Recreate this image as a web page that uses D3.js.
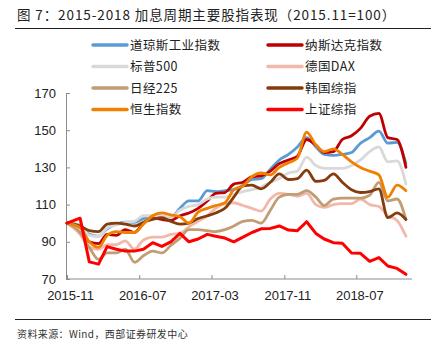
<!DOCTYPE html>
<html><head><meta charset="utf-8">
<script src="https://cdn.jsdelivr.net/npm/d3@7"></script>
<style>
body{margin:0;background:#fff;}
svg{display:block;}
</style></head>
<body>
<svg id="chart" width="440" height="354"></svg>
<script>
const dates = ["2015-11-01","2015-12-15","2016-01-15","2016-02-15","2016-03-15","2016-04-15","2016-05-15","2016-06-15","2016-07-15","2016-08-15","2016-09-15","2016-10-15","2016-11-15","2016-12-15","2017-01-15","2017-02-15","2017-03-15","2017-04-15","2017-05-15","2017-06-15","2017-07-15","2017-08-15","2017-09-15","2017-10-15","2017-11-15","2017-12-15","2018-01-15","2018-02-15","2018-03-15","2018-04-15","2018-05-15","2018-06-15","2018-07-15","2018-08-15","2018-09-15","2018-10-15","2018-11-15","2018-12-15"];
const tickLabels = ["2015-11","2016-07","2017-03","2017-11","2018-07"];
const yTicks = [70,90,110,130,150,170];

const dow    = [100,99,94,93,97,99.5,100.5,100.5,102.5,103.5,103,103,108,112,112,117.5,117,117.5,118,120.5,123.5,124,129,134,137,141,146,141,137,136.5,137,138,143,146,149.5,143,143.5,132];
const nasdaq = [100,98,90,89,94,93.5,96.5,95,100,103,102,101.5,104,105.5,108,112,116,116.5,121,122,125,125.5,128,132,134,136,145,142,138,138.5,145,147,151,157.5,159,146,145,130];
const sp500  = [100,99,93.5,93,97.5,99,100.5,101,104,104,104,103,107,109,110,113,114,114,115.5,117,118,119.5,122,124,127,128,135.5,131,129.5,129.5,129.5,131,134,138.5,141,133,133.5,121];
const dax    = [100,94,87,86,88.5,88.5,90.5,86,91,92.5,92.5,94,94.5,98,101,104,108,110.5,111,109.5,108,106.5,113,116,115.5,114.5,116,110,108.5,110,110.5,110.5,113,110,109,104,101.5,93];
const nikkei = [100,95,87,80.5,84,84,86,79,82.5,85,84,88,92,96.5,96.5,96,95.5,96.5,98.5,101,101.5,100,107,114,115.5,115.5,117.5,114,109.5,113,113.5,113.5,113.5,115,122,112,113,102];
const kospi  = [100,98.5,96,95.5,99.5,100,99.5,98.5,100.5,102,103,101,99.5,100,102.5,104,105.5,108,114,120,120.5,118.5,122,126.5,123.5,124,128.5,122.5,123,126.5,122,118,116.5,117,118.5,103,105.5,102];
const hsi    = [100,97.5,90,87,93.5,95.5,95,95,99.5,104,105.5,104.5,103.5,100,106,108,109.5,111,118,120,125,127,126,130,132.5,135,149,142,138.5,140,137,133,130,128,126,114,120.5,117.5];
const sse    = [100,102.7,79.2,78,87.4,86,85,85,86,89.5,87.5,90,94.5,90,91.5,94,93,92,90,92.5,95,97,97.2,98.5,96.3,96,100.8,94.5,91.5,89.5,89.2,84,83.8,79.5,81.5,77,75.7,72.5];

const seriesNames  = ["道琼斯工业指数","纳斯达克指数","标普500","德国DAX","日经225","韩国综指","恒生指数","上证综指"];
const seriesColors = ["#5B9BD5","#C00000","#D9D9D9","#F2B8AA","#C29D74","#843C0C","#F08000","#FF0000"];
const seriesData   = [dow,nasdaq,sp500,dax,nikkei,kospi,hsi,sse];

const svg = d3.select("#chart");
const parse = d3.timeParse("%Y-%m-%d");
const parseM = d3.timeParse("%Y-%m");
const fmt = d3.timeFormat("%Y-%m");

const x = d3.scaleTime().domain([parseM("2015-11"), parseM("2019-01")]).range([67, 411]);
const y = d3.scaleLinear().domain([70,170]).range([279, 93]);

// title
svg.append("text").attr("x",17).attr("y",20)
  .attr("font-family","'Noto Sans CJK SC','Liberation Sans',sans-serif")
  .attr("font-size",13.5).attr("letter-spacing",0.9).attr("fill","#222")
  .text("图 7：2015-2018 加息周期主要股指表现（2015.11=100）");
svg.append("line").attr("x1",15).attr("x2",431).attr("y1",28.5).attr("y2",28.5).attr("stroke","#222").attr("stroke-width",1);
svg.append("line").attr("x1",15).attr("x2",431).attr("y1",319.5).attr("y2",319.5).attr("stroke","#222").attr("stroke-width",1);
svg.append("text").attr("x",17).attr("y",338)
  .attr("font-family","'Noto Sans CJK SC','Liberation Sans',sans-serif")
  .attr("font-size",10).attr("letter-spacing",0.4).attr("fill","#333")
  .text("资料来源：Wind，西部证券研发中心");

// axes
const yAxis = d3.axisRight(y).tickValues(yTicks).tickSize(4).tickFormat(d3.format("d"));
const gy = svg.append("g").attr("transform","translate(66,0)").call(yAxis);
gy.select(".domain").attr("stroke","#8c8c8c");
gy.selectAll(".tick line").attr("stroke","#8c8c8c");
gy.selectAll(".tick text").attr("x",-10).attr("text-anchor","end")
  .attr("font-family","'Liberation Sans',Arial,sans-serif").attr("font-size",13).attr("fill","#222");

const xAxis = d3.axisTop(x).tickValues(tickLabels.map(parseM)).tickSize(4).tickFormat(fmt);
const gx = svg.append("g").attr("transform","translate(0,279)").call(xAxis);
gx.select(".domain").attr("stroke","#8c8c8c").attr("d","M66,0H412");
gx.selectAll(".tick line").attr("stroke","#8c8c8c");
gx.selectAll(".tick text").attr("y",21).attr("dx",3).attr("text-anchor","middle")
  .attr("font-family","'Liberation Sans',Arial,sans-serif").attr("font-size",13).attr("fill","#222");

// lines
const pts = dates.map(parse);
seriesData.forEach((vals,i)=>{
  const line = d3.line()
    .x((d,j)=>x(pts[j])).y(d=>y(d))
    .curve(i===7 ? d3.curveLinear : d3.curveMonotoneX);
  svg.append("path").datum(vals).attr("d",line)
    .attr("fill","none").attr("stroke",seriesColors[i])
    .attr("stroke-width", i===7 ? 3 : 2.8)
    .attr("stroke-linejoin","round").attr("stroke-linecap","round");
});

// legend
const legX = [93, 268], legY = [45, 66.5, 88, 109.5];
seriesNames.forEach((n,i)=>{
  const cx = legX[i%2], cy = legY[Math.floor(i/2)];
  svg.append("line").attr("x1",cx).attr("x2",cx+34).attr("y1",cy).attr("y2",cy)
    .attr("stroke",seriesColors[i]).attr("stroke-width",3.5).attr("stroke-linecap","round");
  svg.append("text").attr("x",cx+37).attr("y",cy+4.5)
    .attr("font-family","'Noto Sans CJK SC','Liberation Sans',sans-serif")
    .attr("font-size",12.5).attr("letter-spacing",0.4).attr("fill","#222").text(n);
});
</script>
</body></html>
